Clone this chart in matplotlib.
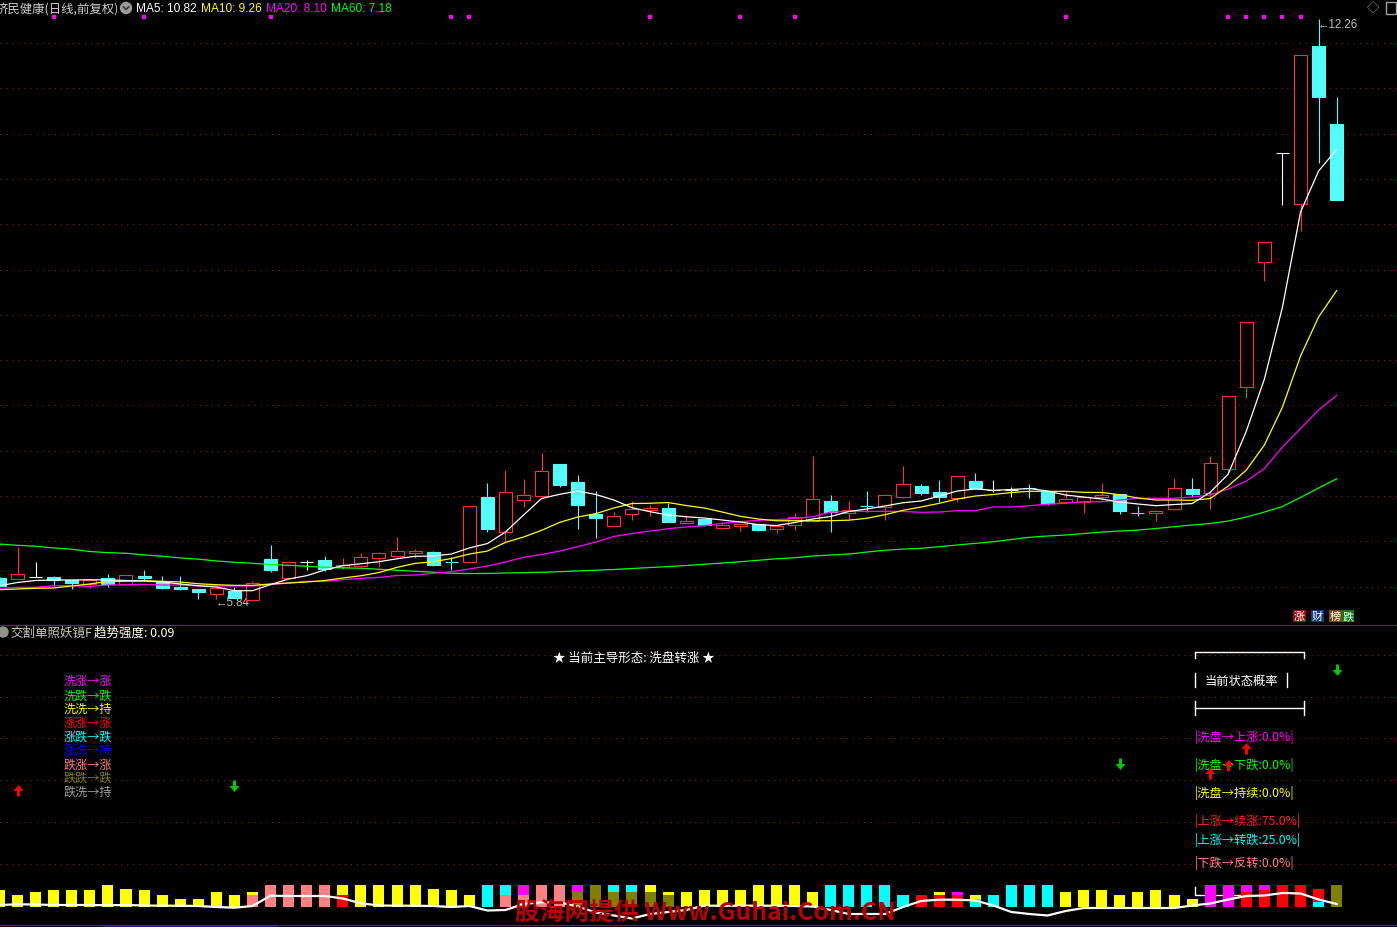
import numpy as np
import matplotlib
matplotlib.use("Agg")
import matplotlib.pyplot as plt
from matplotlib.patches import Rectangle, Circle

plt.rcParams['font.family'] = ['Noto Sans CJK SC', 'DejaVu Sans']
plt.rcParams['lines.scale_dashes'] = False

# ---- price data ----
opens = [6.083, 6.075, 6.094, 6.094, 6.058, 6.020, 6.080, 6.020, 6.109, 6.042,
         5.984, 5.962, 5.910, 5.943, 5.840, 6.293, 6.080, 6.257, 6.282, 6.201,
         6.217, 6.301, 6.323, 6.356, 6.367, 6.262, 6.260, 6.978, 6.588, 6.948,
         6.993, 7.343, 7.144, 6.790, 6.654, 6.794, 6.834, 6.856, 6.691, 6.735,
         6.632, 6.654, 6.680, 6.621, 6.669, 6.710, 6.934, 6.805, 6.880, 6.864,
         6.975, 7.100, 7.033, 6.964, 7.155, 7.059, 7.055, 7.079, 7.037, 6.926,
         6.923, 6.978, 7.008, 6.806, 6.805, 6.842, 7.066, 7.019, 7.284, 8.190,
         9.572, 10.776, 10.212, 11.962, 11.100]
highs = [6.090, 6.429, 6.257, 6.110, 6.060, 6.070, 6.127, 6.113, 6.172, 6.105,
         6.105, 5.962, 5.980, 5.987, 6.053, 6.448, 6.260, 6.285, 6.326, 6.304,
         6.359, 6.370, 6.536, 6.403, 6.381, 6.312, 6.875, 7.133, 7.276, 7.177,
         7.464, 7.343, 7.221, 7.044, 6.810, 6.934, 6.893, 6.908, 6.765, 6.740,
         6.698, 6.680, 6.690, 6.670, 6.798, 7.434, 7.000, 6.934, 7.044, 7.011,
         7.317, 7.122, 7.166, 7.210, 7.243, 7.163, 7.088, 7.122, 7.048, 7.048,
         6.980, 7.133, 7.010, 6.875, 6.830, 7.188, 7.188, 7.431, 8.091, 8.909,
         9.793, 10.776, 11.859, 12.260, 11.398]
lows = [5.995, 6.070, 6.094, 5.995, 5.965, 5.970, 5.987, 6.020, 6.058, 5.965,
        5.954, 5.851, 5.851, 5.860, 5.840, 6.153, 6.080, 6.175, 6.160, 6.182,
        6.208, 6.200, 6.297, 6.307, 6.219, 6.175, 6.250, 6.594, 6.470, 6.871,
        6.990, 7.092, 6.624, 6.525, 6.654, 6.727, 6.772, 6.698, 6.690, 6.654,
        6.632, 6.606, 6.599, 6.577, 6.617, 6.700, 6.594, 6.735, 6.809, 6.727,
        6.970, 6.997, 6.926, 6.926, 7.070, 7.033, 6.975, 6.970, 6.893, 6.915,
        6.801, 6.945, 6.794, 6.772, 6.716, 6.840, 6.982, 6.849, 7.240, 8.075,
        9.368, 10.208, 9.921, 10.672, 10.263]
closes = [5.995, 6.127, 6.094, 6.061, 6.028, 6.064, 6.020, 6.113, 6.086, 5.976,
          5.958, 5.928, 5.973, 5.865, 6.028, 6.175, 6.257, 6.257, 6.182, 6.227,
          6.315, 6.356, 6.378, 6.378, 6.230, 6.257, 6.875, 6.625, 7.030, 6.999,
          7.262, 7.114, 6.893, 6.746, 6.765, 6.845, 6.853, 6.705, 6.713, 6.672,
          6.669, 6.680, 6.617, 6.661, 6.754, 6.956, 6.809, 6.835, 6.875, 6.997,
          7.118, 7.022, 6.981, 7.207, 7.078, 7.059, 7.055, 7.074, 6.915, 6.953,
          6.978, 7.000, 6.827, 6.801, 6.823, 7.074, 7.015, 7.354, 8.091, 8.909,
          9.793, 10.776, 11.859, 11.401, 10.263]

ma5 = [5.998, 6.034, 6.056, 6.061, 6.061, 6.064, 6.061, 6.056, 6.050, 6.039,
       6.017, 5.998, 5.984, 5.943, 5.943, 6.011, 6.072, 6.109, 6.172, 6.219,
       6.241, 6.263, 6.296, 6.323, 6.326, 6.348, 6.415, 6.464, 6.591, 6.779,
       6.962, 7.008, 7.044, 7.006, 6.945, 6.860, 6.816, 6.779, 6.760, 6.746,
       6.724, 6.702, 6.672, 6.663, 6.696, 6.735, 6.763, 6.818, 6.846, 6.879,
       6.915, 6.934, 6.989, 7.044, 7.067, 7.052, 7.061, 7.072, 7.044, 7.000,
       6.978, 6.956, 6.923, 6.901, 6.882, 6.895, 6.906, 7.030, 7.232, 7.707,
       8.282, 9.077, 10.127, 10.580, 10.82]
ma10 = [5.954, 5.962, 5.970, 5.973, 5.995, 6.017, 6.047, 6.047, 6.053, 6.047,
        6.039, 6.020, 6.009, 6.002, 6.002, 6.017, 6.028, 6.039, 6.055, 6.083,
        6.108, 6.144, 6.201, 6.245, 6.263, 6.298, 6.348, 6.381, 6.477, 6.536,
        6.610, 6.698, 6.757, 6.794, 6.857, 6.906, 6.909, 6.917, 6.884, 6.857,
        6.812, 6.765, 6.735, 6.716, 6.716, 6.716, 6.716, 6.722, 6.743, 6.783,
        6.831, 6.868, 6.908, 6.956, 6.989, 7.006, 7.028, 7.041, 7.041, 7.041,
        7.030, 7.028, 7.003, 6.967, 6.945, 6.945, 6.942, 6.961, 7.100, 7.276,
        7.553, 7.973, 8.536, 8.967, 9.26]
ma20 = [5.967, 5.980, 5.980, 5.998, 5.998, 5.991, 6.006, 6.006, 6.013, 6.006,
        6.006, 5.995, 5.995, 5.995, 5.995, 6.009, 6.028, 6.047, 6.047, 6.064,
        6.080, 6.089, 6.111, 6.116, 6.135, 6.153, 6.183, 6.216, 6.260, 6.312,
        6.343, 6.381, 6.429, 6.481, 6.542, 6.575, 6.602, 6.628, 6.647, 6.661,
        6.688, 6.705, 6.721, 6.729, 6.740, 6.760, 6.812, 6.820, 6.820, 6.820,
        6.818, 6.809, 6.812, 6.827, 6.827, 6.868, 6.868, 6.882, 6.898, 6.909,
        6.926, 6.926, 6.945, 6.964, 6.964, 6.964, 6.978, 7.000, 7.067, 7.155,
        7.293, 7.531, 7.735, 7.940, 8.10]
ma60 = [6.459, 6.445, 6.434, 6.415, 6.401, 6.376, 6.363, 6.357, 6.338, 6.324,
        6.305, 6.291, 6.272, 6.257, 6.246, 6.231, 6.224, 6.213, 6.202, 6.194,
        6.191, 6.180, 6.169, 6.158, 6.147, 6.136, 6.133, 6.133, 6.139, 6.142,
        6.147, 6.153, 6.161, 6.169, 6.177, 6.188, 6.199, 6.210, 6.221, 6.235,
        6.249, 6.263, 6.279, 6.296, 6.307, 6.326, 6.337, 6.348, 6.370, 6.389,
        6.403, 6.411, 6.429, 6.448, 6.466, 6.484, 6.509, 6.533, 6.547, 6.558,
        6.575, 6.591, 6.602, 6.613, 6.630, 6.650, 6.669, 6.685, 6.713, 6.757,
        6.812, 6.873, 6.973, 7.077, 7.18]
signal_dots = [3, 8, 15, 25, 26, 36, 41, 44, 59, 68, 69, 70, 71, 72]

# ---- indicator panel data ----
bar_top_col = ['Y', 'Y', 'Y', 'Y', 'Y', 'Y', 'Y', 'Y', 'Y', 'Y',
               'Y', 'Y', 'Y', 'Y', 'Y', 'P', 'P', 'P', 'P', 'Y',
               'Y', 'Y', 'Y', 'Y', 'Y', 'Y', 'Y', 'C', 'C', 'M',
               'P', 'P', 'M', 'O', 'C', 'C', 'Y', 'Y', 'Y', 'Y',
               'Y', 'Y', 'Y', 'Y', 'Y', 'Y', 'C', 'C', 'C', 'C',
               'C', 'R', 'Y', 'M', 'Y', 'C', 'C', 'C', 'C', 'Y',
               'Y', 'Y', 'Y', 'Y', 'Y', 'Y', 'Y', 'M', 'M', 'M',
               'M', 'R', 'R', 'R', 'O']
bar_top_val = [16.7, 11.7, 14.7, 16.7, 16.7, 16.7, 21.7, 17.7, 16.7, 11.7,
               7.7, 7.7, 14.7, 11.7, 14.7, 21.7, 21.7, 21.7, 21.7, 21.7,
               21.7, 21.7, 21.7, 21.7, 17.7, 16.7, 11.7, 21.7, 21.7, 21.7,
               21.7, 21.7, 21.7, 21.7, 21.7, 21.7, 21.7, 14.7, 14.7, 16.7,
               16.7, 16.7, 21.7, 21.7, 21.7, 14.7, 21.7, 21.7, 21.7, 21.7,
               11.7, 11.7, 14.7, 14.7, 11.7, 11.7, 21.7, 21.7, 21.7, 14.7,
               16.7, 16.7, 11.7, 14.7, 16.7, 11.7, 7.7, 21.7, 21.7, 21.7,
               21.7, 21.7, 21.7, 17.7, 21.7]
bar_low_col = {14: 'P', 19: 'R', 28: 'P', 29: 'P', 32: 'O', 34: 'O', 35: 'O',
               36: 'O', 37: 'O', 52: 'R', 53: 'R', 54: 'C', 69: 'R', 70: 'R', 73: 'C'}
bar_low_val = {14: 11.7, 19: 11.7, 28: 11.7, 29: 11.7, 32: 14.7, 34: 14.7, 35: 14.7,
               36: 14.7, 37: 11.7, 52: 11.7, 53: 11.7, 54: 7.7, 69: 14.7, 70: 16.7, 73: 5.0}
trend_line = [1.7, 2.4, 2.2, 1.7, 1.7, 1.7, 1.4, 1.7, 1.2, 1.0,
              1.0, 0.7, -0.3, -1.0, 0.7, 11.0, 10.7, 10.7, 10.7, 8.2,
              3.4, 1.2, 1.0, 1.0, 0.7, -0.3, 0.7, -3.8, -3.3, 2.7,
              4.4, 4.2, 0.2, -5.8, -8.8, -11.8, -7.3, -5.3, -3.3, 1.0,
              1.0, 1.0, 1.0, 1.0, 0.7, 0.2, -3.3, -7.3, -7.3, -7.3,
              -0.3, 5.7, 7.0, 7.0, 6.2, 1.2, -5.3, -7.3, -8.8, -4.3,
              -1.3, -1.3, -1.3, -1.3, -1.3, -1.3, 1.2, 3.2, 7.2, 10.7,
              11.2, 13.7, 13.2, 7.2, 2.7]
up_idx = [1, 67, 68, 69]
up_val = [116.7, 133.7, 141.7, 158.7]
down_idx = [13, 62, 74]
down_val = [121.0, 142.7, 236.7]

legend_labels = ['洗涨→涨', '洗跌→跌', '洗洗→持', '涨涨→涨', '涨跌→跌',
                 '涨洗→持', '跌涨→涨', '跌跌→跌', '跌洗→持']
legend_colors = ['#ff00ff', '#00ff00', '#ffff00', '#ff0000', '#00ffff',
                 '#0000ff', '#ff8080', '#808000', '#a0a0a0']
prob_labels = ['洗盘→上涨:0.0%', '洗盘→下跌:0.0%', '洗盘→持续:0.0%',
               '上涨→续涨:75.0%', '上涨→转跌:25.0%', '下跌→反转:0.0%']
prob_colors = ['#ff00ff', '#00ff00', '#ffff00', '#ff2020', '#00ffff', '#ff8080']

W, H = 1397, 928
RED = '#ff3232'
CYAN = '#54fcfc'
colmap = {'Y': '#ffff00', 'P': '#ff8080', 'M': '#ff00ff', 'R': '#ff0000',
          'C': '#00ffff', 'O': '#808000'}

fig = plt.figure(figsize=(W / 100, H / 100), dpi=100, facecolor='black')

bg = fig.add_axes([0, 0, 1, 1])
bg.set_xlim(0, W)
bg.set_ylim(H, 0)
bg.axis('off')
bg.set_zorder(0)

ov = fig.add_axes([0, 0, 1, 1])
ov.set_xlim(0, W)
ov.set_ylim(H, 0)
ov.axis('off')
ov.set_zorder(0.5)

ax = fig.add_axes([0, 1 - 625 / H, 1, 625 / H])
ax.set_zorder(1)
ax.axis('off')
lo = fig.add_axes([0, 0, 1, 302 / H])
lo.set_zorder(1)
lo.axis('off')

xlim = (0.5 / 18.07, 1397.5 / 18.07)
ax.set_xlim(*xlim)
ax.set_ylim(5.575, 12.481)
lo.set_xlim(*xlim)
lo.set_ylim(-20.3, 281.7)

# grid and separators
main_rows = 44 + 45.3 * np.arange(13)
low_rows = [656, 697.5, 739, 781, 823, 865]
bg.hlines(list(main_rows) + low_rows, 0, W, colors='#961c1c', lw=0.75,
          linestyles=[(0, (0.75, 3.6))])
bg.hlines([625.5, 925.5], 0, W, colors='#b00000', lw=0.9)
bg.add_patch(Rectangle((102, 925.5), 174, 3, color='#1c1c8c'))

# candles
x = np.arange(len(closes))
o, h, l, c = map(np.array, (opens, highs, lows, closes))
up = c > o
dn = c < o
fl = c == o
bw = 0.72
ax.bar(x[up], (c - o)[up], bottom=o[up], width=bw, facecolor='black',
       edgecolor=RED, linewidth=0.8, zorder=2)
ax.vlines(x[up], c[up], h[up], color=RED, lw=0.8, zorder=2)
ax.vlines(x[up], l[up], o[up], color=RED, lw=0.8, zorder=2)
ax.vlines(x[dn], l[dn], h[dn], color=CYAN, lw=0.8, zorder=2)
ax.bar(x[dn], (o - c)[dn], bottom=c[dn], width=bw, color=CYAN,
       edgecolor=CYAN, linewidth=0.8, zorder=2)
ax.hlines(o[fl], x[fl] - bw / 2, x[fl] + bw / 2, color='white', lw=0.8, zorder=2)
ax.vlines(x[fl], l[fl], h[fl], color='white', lw=0.8, zorder=2)

ax.plot(x, ma60, color='#00ff00', lw=0.9, zorder=3)
ax.plot(x, ma20, color='#ff00ff', lw=0.9, zorder=3)
ax.plot(x, ma10, color='#ffff00', lw=0.9, zorder=3)
ax.plot(x, ma5, color='white', lw=0.9, zorder=3)
ax.plot(signal_dots, [1 - 18 / 625] * len(signal_dots), 's', ms=2.3, mew=0,
        color='#ff00ff', transform=ax.get_xaxis_transform())

# indicator bars
lo.bar(x, bar_top_val, width=0.61, color=[colmap[k] for k in bar_top_col], zorder=2)
li = sorted(bar_low_col)
lo.bar(li, [bar_low_val[i] for i in li], width=0.61,
       color=[colmap[bar_low_col[i]] for i in li], zorder=2.1)
lo.plot(x, trend_line, color='white', lw=1.6, zorder=3)

up_arrow = [(-1.5, -6), (1.5, -6), (1.5, -0.5), (5, -0.5), (0, 5.5), (-5, -0.5), (-1.5, -0.5)]
down_arrow = [(px, -py) for px, py in up_arrow]
lo.plot(up_idx, up_val, ls='none', marker=up_arrow, ms=8.6, mew=0, color='#ff0000', zorder=4)
lo.plot(down_idx, down_val, ls='none', marker=down_arrow, ms=8.6, mew=0, color='#00c800', zorder=4)

# header texts
lat = ['Liberation Sans', 'DejaVu Sans']
ov.text(-4, 9, '济民健康(日线,前复权)', color='#d0d0d0', fontsize=8.9, va='center')
ov.add_patch(Circle((126, 9), 5.5, color='#9a9a9a'))
ov.plot([123.3, 126, 128.7], [7.8, 10.5, 7.8], color='#303030', lw=1.1)
ma_texts = [('MA5: 10.82', 'white', 136), ('MA10: 9.26', '#ffff00', 201),
            ('MA20: 8.10', '#ff00ff', 266), ('MA60: 7.18', '#00ff00', 331)]
for t, col, px in ma_texts:
    ov.text(px, 9, t, color=col, fontsize=8.6, va='center', family=lat)
ov.text(1373, 9, '◇', color='#a0a0a0', fontsize=9, va='center', ha='center')
ov.add_patch(Rectangle((1386, 3), 10, 12, fc='none', ec='#a0a0a0', lw=1))

ov.text(1318, 25.5, '←12.26', color='#c0c0c0', fontsize=8.3, va='center', family=lat)
ov.text(216, 603, '←5.84', color='#c0c0c0', fontsize=8.3, va='center', family=lat)

tags = [('涨', '#8c1414', 1299.5), ('财', '#123c6e', 1317.5),
        ('榜', '#7a4a12', 1335.5), ('跌', '#0c7a0c', 1348)]
for t, col, px in tags:
    ov.text(px, 617, t, color='white', fontsize=8, va='center', ha='center',
            bbox=dict(boxstyle='square,pad=0.08', fc=col, ec='none'))

# indicator panel texts
ov.add_patch(Circle((3, 633), 5, color='#909090'))
ov.text(10, 633, '交割单照妖镜F', color='#c8c8c8', fontsize=9, va='center')
ov.text(94, 633, '趋势强度: 0.09', color='white', fontsize=9, va='center')
ov.text(634, 658, '★ 当前主导形态: 洗盘转涨 ★', color='white', fontsize=9,
        va='center', ha='center')

legend_y = [681.7, 696.3, 709.3, 723.3, 737.3, 750.7, 765, 778.3, 792.7]
for t, col, py in zip(legend_labels, legend_colors, legend_y):
    ov.text(64, py, t, color=col, fontsize=8.7, va='center')

ov.plot([1195, 1195, 1303.5, 1303.5], [659, 653, 653, 659], color='white', lw=1)
ov.plot([1195, 1195], [674, 688], color='white', lw=1)
ov.plot([1287, 1287], [674, 688], color='white', lw=1)
ov.text(1205, 681, '当前状态概率', color='white', fontsize=8.8, va='center')
ov.plot([1195, 1303.5], [709, 709], color='white', lw=1)
ov.plot([1195, 1195], [702, 716], color='white', lw=1)
ov.plot([1303.5, 1303.5], [702, 716], color='white', lw=1)

prob_y = [737, 765, 793, 821, 840, 863]
for t, col, py in zip(prob_labels, prob_colors, prob_y):
    ov.text(1195, py, '|' + t + '|', color=col, fontsize=8.8, va='center')
bg.plot([1195, 1195, 1245], [888, 896, 896], color='white', lw=1)

fig.text(515 / W, 1 - 913 / H, '股海网提供 Www.Guhai.Com.CN', color='#b80000',
         fontsize=17.8, fontweight='bold', va='center', ha='left', zorder=5)

fig.savefig('out.png', dpi=100, facecolor='black')
